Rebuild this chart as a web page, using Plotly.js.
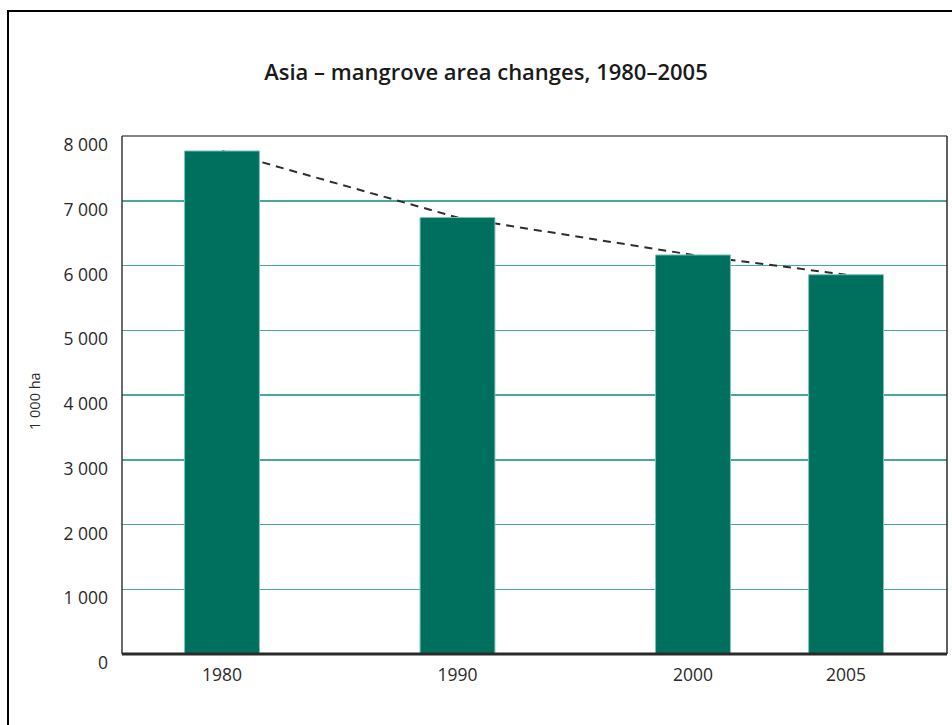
<!DOCTYPE html>
<html>
<head>
<meta charset="utf-8">
<script src="https://cdn.plot.ly/plotly-3.0.1.min.js"></script>
<style>
  html, body { margin: 0; padding: 0; background: #ffffff; }
  #chart { position: absolute; left: 0; top: 0; width: 952px; height: 725px; }
  #frame { position: absolute; left: 7px; top: 10px; width: 1000px; height: 800px;
           border-left: 2.5px solid #000; border-top: 2.5px solid #000; pointer-events: none; }
</style>
</head>
<body>
<div id="chart"></div>
<div id="frame"></div>
<script>
// Data (1 000 ha)
const years = ['1980', '1990', '2000', '2005'];
const area = [7769, 6741, 6163, 5858];
// Category slot positions along the x axis (layout only)
const slots = [0, 1, 2, 2.65];

const tickFont = { family: 'Open Sans, sans-serif', size: 17.5, color: '#2a2a2a' };

const trend = {
  type: 'scatter', mode: 'lines',
  x: slots, y: area,
  xaxis: 'x', yaxis: 'y',
  line: { color: '#2e2e2e', width: 2, dash: '8px,6px' },
  hoverinfo: 'skip', showlegend: false
};

const bars = {
  type: 'bar',
  x: slots, y: area,
  xaxis: 'x2', yaxis: 'y2',
  width: 0.318,
  marker: { color: '#00705e', line: { color: '#7fc2b7', width: 1 } },
  showlegend: false
};

const xr = [-0.4246, 3.0786];
const yr = [0, 8000];

const layout = {
  width: 952, height: 725,
  margin: { l: 122, r: 5, t: 136, b: 71 },
  paper_bgcolor: 'rgba(0,0,0,0)',
  plot_bgcolor: '#ffffff',
  separators: '. ',
  title: {
    text: 'Asia – mangrove area changes, 1980–2005',
    font: { family: 'Open Sans, sans-serif', size: 22, color: '#1a1a1a', weight: 600 },
    x: 486 / 952, xref: 'container', xanchor: 'center',
    y: 1 - 72 / 725, yref: 'container', yanchor: 'middle'
  },
  xaxis: {
    range: xr, fixedrange: true,
    tickvals: slots, ticktext: years,
    showgrid: false, zeroline: false, showline: false, ticks: '',
    tickfont: tickFont, ticklabelstandoff: 8
  },
  xaxis2: { range: xr, overlaying: 'x', visible: false, fixedrange: true },
  yaxis: {
    range: yr, fixedrange: true,
    dtick: 1000, tick0: 0, tickformat: ',d',
    showgrid: true, gridcolor: '#4aa79b', gridwidth: 1.5,
    zeroline: false, showline: false, ticks: '',
    tickfont: tickFont, ticklabelstandoff: 13, ticklabelshift: 9
  },
  yaxis2: { range: yr, overlaying: 'y', visible: false, fixedrange: true },
  annotations: [{
    text: '1 000 ha', textangle: -90,
    xref: 'paper', yref: 'paper',
    x: (34 - 122) / 825, y: (654 - 401) / 518,
    xanchor: 'center', yanchor: 'middle',
    showarrow: false,
    font: { family: 'Open Sans, sans-serif', size: 14.5, color: '#2a2a2a' }
  }],
  shapes: [
    { type: 'line', xref: 'paper', yref: 'paper', x0: 0, x1: 1, y0: 1, y1: 1,
      line: { color: '#858585', width: 2 }, layer: 'above' },
    { type: 'line', xref: 'paper', yref: 'paper', x0: 0, x1: 0, y0: 0, y1: 1,
      line: { color: '#3a3a3a', width: 1.5 }, layer: 'above' },
    { type: 'line', xref: 'paper', yref: 'paper', x0: 1, x1: 1, y0: 0, y1: 1,
      line: { color: '#2a2a2a', width: 1.5 }, layer: 'above' },
    { type: 'line', xref: 'paper', yref: 'paper', x0: 0, x1: 1, y0: 0, y1: 0,
      line: { color: '#2a2a2a', width: 3 }, layer: 'above' }
  ]
};

Plotly.newPlot('chart', [trend, bars], layout, { staticPlot: true, displayModeBar: false });
</script>
</body>
</html>
